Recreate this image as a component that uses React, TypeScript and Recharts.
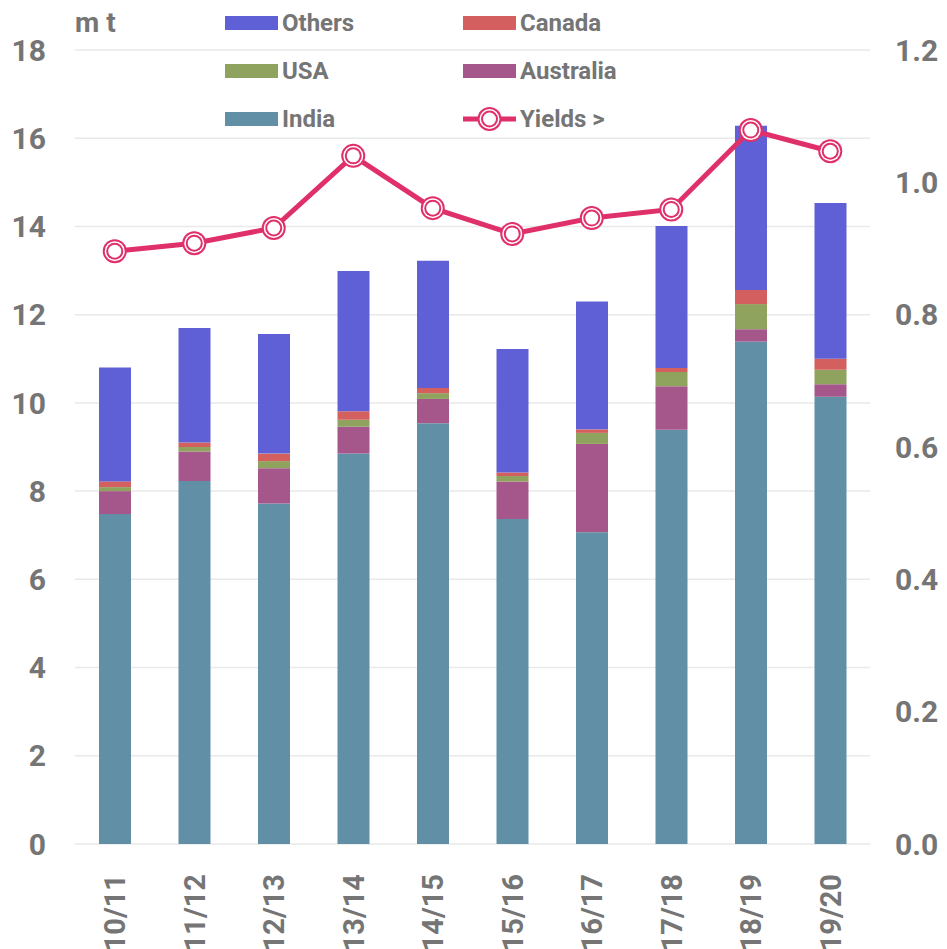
import {
  ComposedChart,
  Bar,
  Line,
  XAxis,
  YAxis,
  CartesianGrid,
} from 'recharts';

const seasons = ['10/11', '11/12', '12/13', '13/14', '14/15', '15/16', '16/17', '17/18', '18/19', '19/20'];
const india = [7.48, 8.23, 7.72, 8.85, 9.54, 7.37, 7.07, 9.39, 11.39, 10.14];
const australia = [0.52, 0.67, 0.8, 0.61, 0.55, 0.85, 2.0, 0.99, 0.28, 0.28];
const usa = [0.09, 0.1, 0.16, 0.16, 0.13, 0.12, 0.25, 0.32, 0.57, 0.33];
const canada = [0.13, 0.1, 0.17, 0.19, 0.12, 0.08, 0.08, 0.09, 0.32, 0.25];
const others = [2.58, 2.6, 2.71, 3.18, 2.88, 2.8, 2.9, 3.22, 3.72, 3.53];
const yields = [0.896, 0.908, 0.931, 1.04, 0.961, 0.922, 0.946, 0.959, 1.079, 1.047];

const leftTicks = [0, 2, 4, 6, 8, 10, 12, 14, 16, 18];
const rightTicks = [0, 0.2, 0.4, 0.6, 0.8, 1.0, 1.2];

const COLORS = {
  india: '#618FA6',
  australia: '#A5578C',
  usa: '#8FA35F',
  canada: '#D45F5F',
  others: '#6060D6',
  yields: '#E0306A',
};
const TEXT = '#757575';
const FONT = 'Roboto, "Noto Sans", sans-serif';

const data = seasons.map((season, i) => ({
  season,
  india: india[i],
  australia: australia[i],
  usa: usa[i],
  canada: canada[i],
  others: others[i],
  yields: yields[i],
}));

const tickStyle = { fontSize: 30, fontWeight: 700, fill: TEXT, fontFamily: FONT };

function YieldDot(props: any) {
  const { cx, cy, index } = props;
  if (cx == null || cy == null) return null;
  return (
    <g key={`dot-${index}`}>
      <circle cx={cx} cy={cy} r={12} fill={COLORS.yields} />
      <circle cx={cx} cy={cy} r={10} fill="#fff" />
      <circle cx={cx} cy={cy} r={8.5} fill={COLORS.yields} />
      <circle cx={cx} cy={cy} r={6.5} fill="#fff" />
    </g>
  );
}

function SeasonTick(props: any) {
  const { x, y, payload } = props;
  return (
    <text
      transform={`translate(${x + 10.5}, ${y + 22}) rotate(-90)`}
      textAnchor="end"
      style={{ ...tickStyle, fontSize: 29 }}
      fill={TEXT}
    >
      {payload.value}
    </text>
  );
}

const legendItems = [
  { name: 'Others', color: COLORS.others, col: 0, row: 0 },
  { name: 'Canada', color: COLORS.canada, col: 1, row: 0 },
  { name: 'USA', color: COLORS.usa, col: 0, row: 1 },
  { name: 'Australia', color: COLORS.australia, col: 1, row: 1 },
  { name: 'India', color: COLORS.india, col: 0, row: 2 },
  { name: 'Yields >', color: COLORS.yields, col: 1, row: 2, line: true },
];

function ChartLegend() {
  return (
    <div style={{ position: 'absolute', left: 0, top: 0, width: 947, height: 140, pointerEvents: 'none' }}>
      {legendItems.map((it) => (
        <div
          key={it.name}
          style={{
            position: 'absolute',
            left: it.col === 0 ? 225 : 463,
            top: 23 + it.row * 48 - 16,
            height: 32,
            display: 'flex',
            alignItems: 'center',
            fontFamily: FONT,
            fontWeight: 700,
            fontSize: 24,
            color: TEXT,
            whiteSpace: 'nowrap',
          }}
        >
          {it.line ? (
            <svg width={53} height={28} style={{ marginRight: 4 }}>
              <line x1={0} y1={14} x2={53} y2={14} stroke={it.color} strokeWidth={5} />
              <circle cx={26.5} cy={14} r={12} fill={it.color} />
              <circle cx={26.5} cy={14} r={10} fill="#fff" />
              <circle cx={26.5} cy={14} r={8.5} fill={it.color} />
              <circle cx={26.5} cy={14} r={6.5} fill="#fff" />
            </svg>
          ) : (
            <span style={{ display: 'inline-block', width: 53, height: 14, background: it.color, marginRight: 4 }} />
          )}
          {it.name}
        </div>
      ))}
    </div>
  );
}

export default function App() {
  return (
    <div style={{ position: 'absolute', left: 0, top: 0, width: 947, height: 949, background: '#fff', overflow: 'hidden' }}>
      <ComposedChart
        width={947}
        height={949}
        data={data}
        margin={{ top: 50, right: 0, left: 0, bottom: 0 }}
      >
        <CartesianGrid yAxisId="left" vertical={false} stroke="#e9e9e9" strokeWidth={1.5} />
        <XAxis
          dataKey="season"
          interval={0}
          height={105}
          tickLine={false}
          axisLine={false}
          tick={<SeasonTick />}
        />
        <YAxis
          yAxisId="left"
          width={75}
          domain={[0, 18]}
          ticks={leftTicks}
          tickLine={false}
          axisLine={false}
          tickSize={0}
          tickMargin={29}
          tick={tickStyle}
          label={{
            content: (p: any) => {
              const vb = p.viewBox || { x: 0, y: 50, width: 75 };
              return (
                <text x={vb.x + vb.width} y={vb.y - 18} style={{ ...tickStyle, fontSize: 28 }} fill={TEXT}>
                  m t
                </text>
              );
            },
          }}
        />
        <YAxis
          yAxisId="right"
          orientation="right"
          width={77}
          domain={[0, 1.2]}
          ticks={rightTicks}
          tickLine={false}
          axisLine={false}
          tickSize={0}
          tickMargin={25}
          tick={tickStyle}
          tickFormatter={(v: number) => v.toFixed(1)}
        />
        <Bar yAxisId="left" dataKey="india" stackId="a" fill={COLORS.india} barSize={32} isAnimationActive={false} />
        <Bar yAxisId="left" dataKey="australia" stackId="a" fill={COLORS.australia} barSize={32} isAnimationActive={false} />
        <Bar yAxisId="left" dataKey="usa" stackId="a" fill={COLORS.usa} barSize={32} isAnimationActive={false} />
        <Bar yAxisId="left" dataKey="canada" stackId="a" fill={COLORS.canada} barSize={32} isAnimationActive={false} />
        <Bar yAxisId="left" dataKey="others" stackId="a" fill={COLORS.others} barSize={32} isAnimationActive={false} />
        <Line
          yAxisId="right"
          dataKey="yields"
          stroke={COLORS.yields}
          strokeWidth={5}
          dot={<YieldDot />}
          activeDot={false}
          isAnimationActive={false}
        />
      </ComposedChart>
      <ChartLegend />
    </div>
  );
}
